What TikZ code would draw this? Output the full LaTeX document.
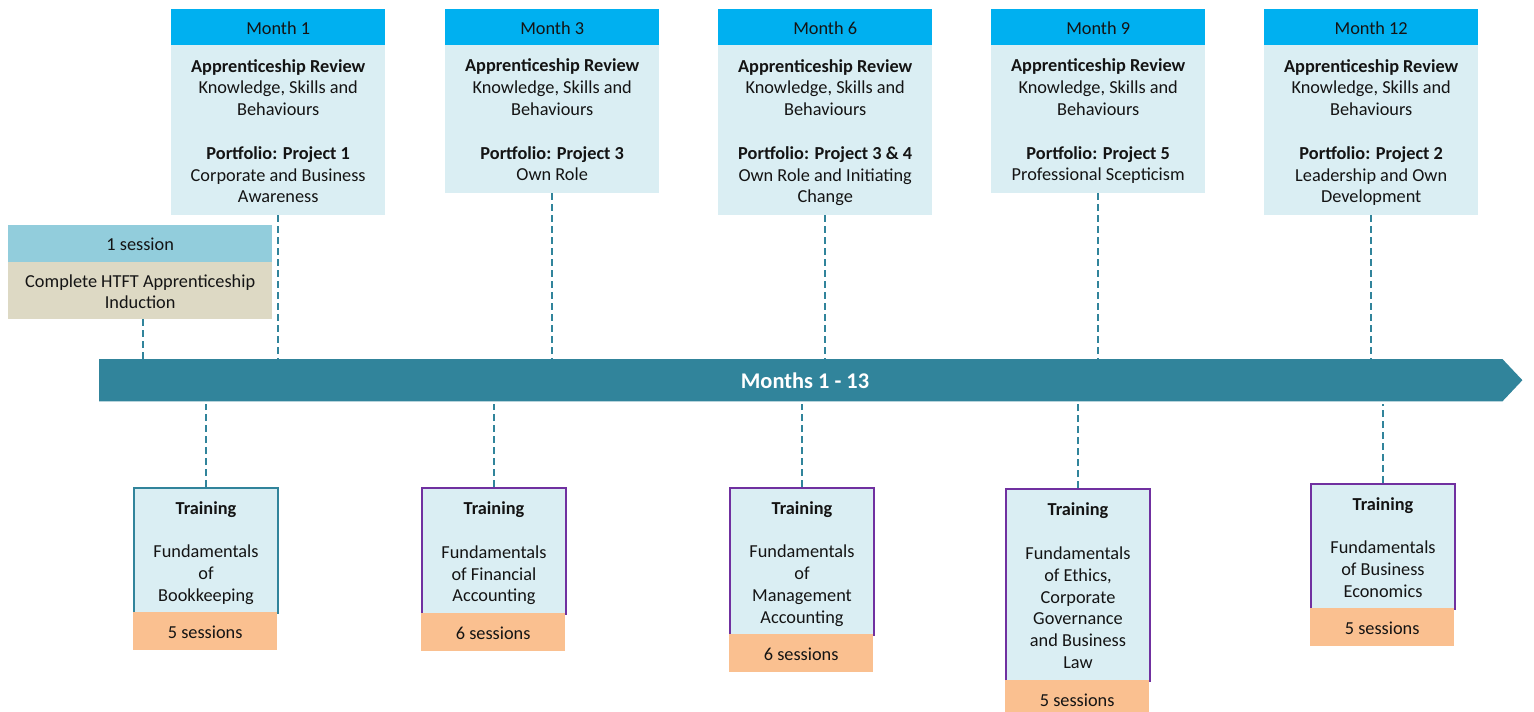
\documentclass[tikz,border=0pt]{standalone}
\usepackage{fontspec}
\setmainfont{Carlito}
\definecolor{hdrc}{HTML}{00B0F0}
\definecolor{bodyc}{HTML}{DAEEF3}
\definecolor{indhc}{HTML}{92CDDC}
\definecolor{indbc}{HTML}{DDD9C4}
\definecolor{barc}{HTML}{31849B}
\definecolor{sessc}{HTML}{FAC090}
\definecolor{purp}{HTML}{7030A0}
\definecolor{txtc}{HTML}{141414}
\newcommand\ft{\rule{0pt}{21pt}}
\begin{document}
\begin{tikzpicture}[x=1pt,y=-1pt,
  txt/.style={font=\fontsize{18.3}{21.8}\selectfont, text=txtc, align=center, inner sep=0pt, anchor=north west,
    execute at end node={\strut}},
  hdr/.style={txt, fill=hdrc, minimum width=214pt, minimum height=36pt},
  revbody/.style={txt, fill=bodyc, minimum width=214pt},
  trainbox/.style={txt, fill=bodyc, draw=purp, line width=2pt, minimum width=144pt},
  sessbox/.style={txt, fill=sessc, minimum width=144pt, minimum height=38pt},
  dashline/.style={draw=barc, line width=2pt, dash pattern=on 7pt off 4pt}
]
\clip (0,0) rectangle (1534,712);
\fill[white] (0,0) rectangle (1534,712);

% top month boxes
\node[hdr] (h1) at (171,9) {\ft Month 1};
\node[revbody, minimum height=170pt] (m1) at (171,45) {\ft\textbf{Apprenticeship Review}\\Knowledge, Skills and\\Behaviours\\[21.8pt]\textbf{Portfolio: Project 1}\\Corporate and Business\\Awareness};
\node[hdr] (h3) at (445,9) {\ft Month 3};
\node[revbody, minimum height=148pt] (m3) at (445,45) {\ft\textbf{Apprenticeship Review}\\Knowledge, Skills and\\Behaviours\\[21.8pt]\textbf{Portfolio: Project 3}\\Own Role};
\node[hdr] (h6) at (718,9) {\ft Month 6};
\node[revbody, minimum height=170pt] (m6) at (718,45) {\ft\textbf{Apprenticeship Review}\\Knowledge, Skills and\\Behaviours\\[21.8pt]\textbf{Portfolio: Project 3 \& 4}\\Own Role and Initiating\\Change};
\node[hdr] (h9) at (991,9) {\ft Month 9};
\node[revbody, minimum height=148pt] (m9) at (991,45) {\ft\textbf{Apprenticeship Review}\\Knowledge, Skills and\\Behaviours\\[21.8pt]\textbf{Portfolio: Project 5}\\Professional Scepticism};
\node[hdr] (h12) at (1264,9) {\ft Month 12};
\node[revbody, minimum height=170pt] (m12) at (1264,45) {\ft\textbf{Apprenticeship Review}\\Knowledge, Skills and\\Behaviours\\[21.8pt]\textbf{Portfolio: Project 2}\\Leadership and Own\\Development};

% induction
\node[txt, fill=indhc, minimum width=264pt, minimum height=37pt] (ih) at (8,225) {\ft 1 session};
\node[txt, fill=indbc, minimum width=264pt, minimum height=57pt] (ib) at (8,262) {\ft Complete HTFT Apprenticeship\\Induction};

% timeline bar
\node[inner sep=0pt, minimum width=1423pt, minimum height=42pt, anchor=north west] (bar) at (99,359) {};
\fill[barc] (bar.north west) -- ([xshift=-20pt]bar.north east) -- (bar.east) -- ([xshift=-20pt]bar.south east) -- (bar.south west) -- cycle;
\node[font=\fontsize{22.4}{26}\selectfont\bfseries, text=white, inner sep=0pt] (barlbl) at (805,381) {Months 1 - 13};

% training boxes
\node[trainbox, draw=barc, minimum height=125pt] (t1) at (133,487) {\ft\textbf{Training}\\[21.8pt]Fundamentals\\of\\Bookkeeping};
\node[sessbox] (s1) at (133,612) {\ft 5 sessions};
\node[trainbox, minimum height=126pt] (t2) at (421,487) {\ft\textbf{Training}\\[21.8pt]Fundamentals\\of Financial\\Accounting};
\node[sessbox] (s2) at (421,613) {\ft 6 sessions};
\node[trainbox, minimum height=147pt] (t3) at (729,487) {\ft\textbf{Training}\\[21.8pt]Fundamentals\\of\\Management\\Accounting};
\node[sessbox] (s3) at (729,634) {\ft 6 sessions};
\node[trainbox, minimum height=192pt] (t4) at (1005,488) {\ft\textbf{Training}\\[21.8pt]Fundamentals\\of Ethics,\\Corporate\\Governance\\and Business\\Law};
\node[sessbox] (s4) at (1005,680) {\ft 5 sessions};
\node[trainbox, minimum height=125pt] (t5) at (1310,483) {\ft\textbf{Training}\\[21.8pt]Fundamentals\\of Business\\Economics};
\node[sessbox] (s5) at (1310,608) {\ft 5 sessions};

% connectors
\foreach \n in {m1,m3,m6,m9,m12}
  \draw[dashline] (\n.south) -- (\n.south |- bar.north);
\draw[dashline] ([xshift=3pt]ib.south) -- ([xshift=3pt]ib.south |- bar.north);
\foreach \n in {t1,t2,t3,t4,t5}
  \draw[dashline] (\n.north) -- ([yshift=-3pt]\n.north |- bar.south);
\end{tikzpicture}
\end{document}
